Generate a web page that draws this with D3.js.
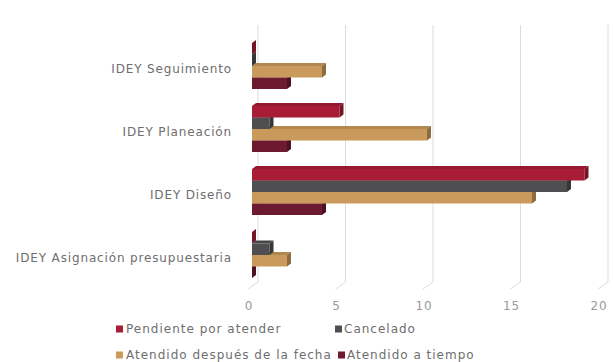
<!DOCTYPE html>
<html>
<head>
<meta charset="utf-8">
<script src="https://cdn.jsdelivr.net/npm/d3@7/dist/d3.min.js"></script>
<style>
  html, body { margin: 0; padding: 0; background: #fff; }
  svg { display: block; font-family: "DejaVu Sans", sans-serif; }
</style>
</head>
<body>
<svg id="chart" width="613" height="362"></svg>
<script>
// Categories, listed top to bottom
const categories = [
  "IDEY Seguimiento",
  "IDEY Planeación",
  "IDEY Diseño",
  "IDEY Asignación presupuestaria"
];

// Series, in the order they sit inside each group (top to bottom)
const seriesNames = [
  "Pendiente por atender",
  "Cancelado",
  "Atendido después de la fecha",
  "Atendido a tiempo"
];
const seriesColors = ["#a81c36", "#4f4e50", "#c99a5b", "#6d1a30"];

// Values per series, aligned with categories
const pendiente = [0, 5, 19, 0];
const cancelado = [0, 1, 18, 1];
const despues   = [4, 10, 16, 2];
const aTiempo   = [2, 2, 4, 0];
const seriesValues = [pendiente, cancelado, despues, aTiempo];

const xTicks = [0, 5, 10, 15, 20];

const svg = d3.select("#chart");

const x = d3.scaleLinear().domain([0, 20]).range([252, 602]);
const y0 = d3.scaleBand().domain(categories).range([34.5, 286.5]).padding(0);
const y1 = d3.scaleBand().domain(seriesNames).range([8.5, 54.5]).padding(0);

// 3D depth offset
const dx = 4, dy = 3;
const wallDx = 6, floorY = 282;

// Back-wall gridlines and floor edges
const grid = svg.append("g");
xTicks.forEach(t => {
  grid.append("line")
    .attr("x1", x(t) + wallDx).attr("x2", x(t) + wallDx)
    .attr("y1", 25).attr("y2", floorY)
    .attr("stroke", "#dcdcdc").attr("stroke-width", 1);
  grid.append("line")
    .attr("x1", x(t) + wallDx).attr("y1", floorY)
    .attr("x2", x(t) - 4).attr("y2", floorY + 7)
    .attr("stroke", "#dcdcdc").attr("stroke-width", 1);
});

// Bars: lower series first so that upper bars cover their top faces
const bars = svg.append("g");
categories.forEach((cat, ci) => {
  for (let si = seriesNames.length - 1; si >= 0; si--) {
    const v = seriesValues[si][ci];
    const c = d3.color(seriesColors[si]);
    const yt = y0(cat) + y1(seriesNames[si]);
    const yb = yt + y1.bandwidth();
    const xs = x(0), xe = x(v);
    // top face
    bars.append("polygon")
      .attr("points", [[xs, yt], [xs + dx, yt - dy], [xe + dx, yt - dy], [xe, yt]].join(" "))
      .attr("fill", c.darker(0.35).formatHex());
    // front face
    bars.append("rect")
      .attr("x", xs).attr("y", yt)
      .attr("width", Math.max(0, xe - xs)).attr("height", yb - yt)
      .attr("fill", c.formatHex());
    // end face
    bars.append("polygon")
      .attr("points", [[xe, yt], [xe + dx, yt - dy], [xe + dx, yb - dy], [xe, yb]].join(" "))
      .attr("fill", c.darker(1).formatHex());
  }
});

// Axis tick labels
const tickG = svg.append("g");
xTicks.forEach(t => {
  tickG.append("text")
    .attr("x", x(t) - 3).attr("y", 309.5)
    .attr("text-anchor", "middle")
    .attr("font-size", 12).attr("letter-spacing", 0.8)
    .attr("fill", "#999999")
    .text(t);
});

// Category labels
const catG = svg.append("g");
categories.forEach(cat => {
  catG.append("text")
    .attr("x", 232).attr("y", y0(cat) + y0.bandwidth() / 2 + 6.5)
    .attr("text-anchor", "end")
    .attr("font-size", 12).attr("letter-spacing", 0.85)
    .attr("fill", "#6e6e6e")
    .text(cat);
});

// Legend (two rows)
const legendPos = [
  { x: 116, tx: 126, y: 333 },
  { x: 335, tx: 344, y: 333 },
  { x: 116, tx: 126, y: 359 },
  { x: 338, tx: 347, y: 359 }
];
const leg = svg.append("g");
seriesNames.forEach((name, i) => {
  const p = legendPos[i];
  leg.append("rect")
    .attr("x", p.x).attr("y", p.y - 7.5)
    .attr("width", 7).attr("height", 7)
    .attr("fill", seriesColors[i]);
  leg.append("text")
    .attr("x", p.tx).attr("y", p.y)
    .attr("font-size", 12).attr("letter-spacing", 1)
    .attr("fill", "#6e6e6e")
    .text(name);
});
</script>
</body>
</html>
